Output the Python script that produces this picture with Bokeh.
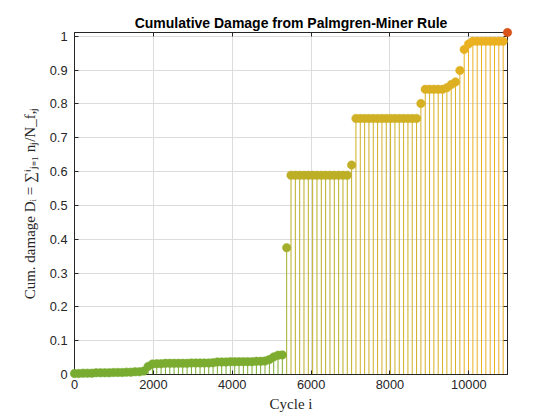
from bokeh.plotting import figure
from bokeh.models import Range1d, FixedTicker, LinearAxis, CustomJSTickFormatter, ColumnDataSource
from bokeh.embed import file_html
from bokeh.resources import INLINE

cycles = [0, 110, 220, 329, 439, 549, 659, 769, 878, 988,
          1098, 1208, 1318, 1427, 1537, 1647, 1757, 1867, 1976, 2086,
          2196, 2306, 2416, 2525, 2635, 2745, 2855, 2965, 3074, 3184,
          3294, 3404, 3514, 3623, 3733, 3843, 3953, 4063, 4172, 4282,
          4392, 4502, 4612, 4721, 4831, 4941, 5051, 5161, 5270, 5380,
          5490, 5600, 5710, 5819, 5929, 6039, 6149, 6259, 6368, 6478,
          6588, 6698, 6808, 6917, 7027, 7137, 7247, 7357, 7466, 7576,
          7686, 7796, 7906, 8015, 8125, 8235, 8345, 8455, 8564, 8674,
          8784, 8894, 9004, 9113, 9223, 9333, 9443, 9553, 9662, 9772,
          9882, 9992, 10102, 10211, 10321, 10431, 10541, 10651, 10760, 10870,
          10980]

damage = [0.003, 0.003, 0.004, 0.004, 0.004, 0.005, 0.005, 0.005, 0.005, 0.006,
          0.006, 0.006, 0.007, 0.007, 0.008, 0.008, 0.010, 0.024, 0.031, 0.032,
          0.032, 0.033, 0.033, 0.033, 0.033, 0.033, 0.033, 0.034, 0.034, 0.034,
          0.034, 0.034, 0.035, 0.037, 0.037, 0.037, 0.038, 0.038, 0.038, 0.038,
          0.038, 0.038, 0.039, 0.039, 0.040, 0.044, 0.052, 0.057, 0.058, 0.375,
          0.589, 0.589, 0.589, 0.589, 0.589, 0.589, 0.589, 0.589, 0.589, 0.589,
          0.589, 0.589, 0.589, 0.589, 0.619, 0.757, 0.757, 0.757, 0.757, 0.757,
          0.757, 0.757, 0.757, 0.757, 0.757, 0.757, 0.757, 0.757, 0.757, 0.757,
          0.801, 0.843, 0.843, 0.843, 0.843, 0.843, 0.848, 0.857, 0.865, 0.899,
          0.961, 0.977, 0.985, 0.985, 0.985, 0.985, 0.985, 0.985, 0.985, 0.985,
          1.011]

x_ticks = [0, 2000, 4000, 6000, 8000, 10000]
y_ticks = [0, 0.1, 0.2, 0.3, 0.4, 0.5, 0.6, 0.7, 0.8, 0.9, 1.0]

title_text = "Cumulative Damage from Palmgren-Miner Rule"
x_label = "Cycle i"
y_label = "Cum. damage Dᵢ = ∑ⁱⱼ₌₁ nⱼ/N_f,ⱼ"

GREEN = (0.466, 0.674, 0.188)
YELLOW = (0.929, 0.694, 0.125)
RED = (0.850, 0.325, 0.098)


def damage_color(d):
    if d >= 1.0:
        c = RED
    else:
        c = tuple(g + (y - g) * d for g, y in zip(GREEN, YELLOW))
    return "#%02x%02x%02x" % tuple(int(round(v * 255)) for v in c)


colors = [damage_color(d) for d in damage]
src = ColumnDataSource(dict(x=cycles, y=damage, base=[0.0] * len(cycles), c=colors))

AX = "#262626"
p = figure(width=560, height=420, output_backend="svg", toolbar_location=None,
           x_range=Range1d(0, cycles[-1]), y_range=Range1d(0, damage[-1]),
           min_border_left=74, min_border_right=53, min_border_top=32, min_border_bottom=46,
           background_fill_color="white", border_fill_color="white")

p.segment(x0="x", y0="base", x1="x", y1="y", line_color="c", line_width=1, source=src)
p.scatter("x", "y", size=8.5, fill_color="c", line_color="c", line_width=0.5,
          source=src, level="overlay")

p.title.text = title_text
p.title.align = "center"
p.title.text_font = "Liberation Sans"
p.title.text_font_size = "14px"
p.title.text_font_style = "bold"
p.title.text_color = "black"
p.title.standoff = 3

p.xaxis.ticker = FixedTicker(ticks=x_ticks)
p.yaxis.ticker = FixedTicker(ticks=y_ticks)
p.yaxis.formatter = CustomJSTickFormatter(code="return (Math.round(tick*10)/10).toString();")
p.xaxis.axis_label = x_label
p.yaxis.axis_label = y_label

for ax in (p.xaxis[0], p.yaxis[0]):
    ax.axis_line_color = AX
    ax.major_tick_line_color = AX
    ax.major_tick_in = 4
    ax.major_tick_out = 0
    ax.minor_tick_line_color = None
    ax.major_label_text_font = "Liberation Sans"
    ax.major_label_text_font_size = "12.8px"
    ax.major_label_text_color = AX
    ax.axis_label_text_font = "Liberation Serif"
    ax.axis_label_text_font_size = "15px"
    ax.axis_label_text_font_style = "normal"
    ax.axis_label_text_color = AX

p.xaxis.major_label_standoff = 5
p.xaxis.axis_label_standoff = 4
p.yaxis.major_label_standoff = 7
p.yaxis.axis_label_standoff = 9

blank = CustomJSTickFormatter(code="return '';")
top = LinearAxis(ticker=FixedTicker(ticks=x_ticks), formatter=blank)
right = LinearAxis(ticker=FixedTicker(ticks=y_ticks), formatter=blank)
for ax in (top, right):
    ax.axis_line_color = AX
    ax.major_tick_line_color = AX
    ax.major_tick_in = 4
    ax.major_tick_out = 0
    ax.minor_tick_line_color = None
    ax.major_label_text_font_size = "1px"
    ax.major_label_standoff = 0
p.add_layout(top, "above")
p.add_layout(right, "right")

p.xgrid.ticker = FixedTicker(ticks=x_ticks)
p.ygrid.ticker = FixedTicker(ticks=y_ticks)
p.xgrid.grid_line_color = "#dcdcdc"
p.ygrid.grid_line_color = "#dcdcdc"
p.outline_line_color = AX

open("out.html", "w").write(file_html(p, INLINE))
